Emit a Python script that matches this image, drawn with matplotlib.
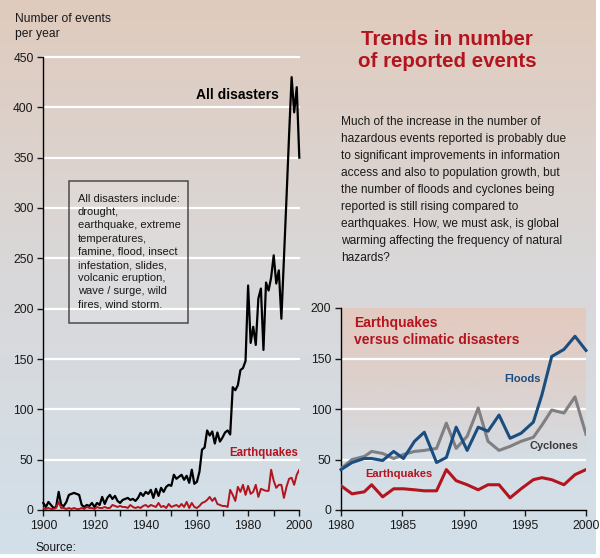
import matplotlib.pyplot as plt
import numpy as np
from matplotlib.colors import to_rgb
from matplotlib.patches import Rectangle

# --- data ---
years = np.arange(1900, 2001)

all_disasters = [
    7, 3, 8, 5, 2, 3, 18, 5, 4, 8,
    15, 16, 17, 16, 15, 5, 3, 5, 4, 7,
    3, 7, 5, 13, 6, 12, 15, 11, 14, 9,
    7, 10, 11, 12, 10, 11, 9, 12, 17, 14,
    18, 16, 20, 12, 21, 14, 22, 18, 23, 25,
    24, 35, 31, 33, 35, 30, 34, 27, 40, 26,
    28, 38, 60, 62, 79, 74, 78, 66, 77, 68,
    72, 77, 79, 75, 122, 119, 124, 139, 141, 148,
    223, 166, 182, 164, 210, 220, 159, 226, 218, 231,
    253, 225, 238, 190, 250, 310, 372, 430, 395, 420, 350,
]

earthquakes_all = [
    2, 1, 2, 1, 1, 2, 8, 2, 2, 1,
    2, 1, 2, 1, 1, 2, 1, 3, 2, 2,
    1, 3, 2, 2, 3, 2, 2, 5, 4, 3,
    4, 3, 3, 2, 5, 3, 2, 3, 2, 4,
    5, 3, 5, 4, 3, 7, 3, 4, 2, 6,
    3, 4, 5, 3, 6, 3, 8, 2, 7, 3,
    2, 4, 7, 8, 10, 13, 9, 12, 6, 5,
    4, 4, 3, 20, 15, 9, 23, 18, 25, 15,
    24, 16, 18, 25, 13, 21, 20, 19, 19, 40,
    29, 22, 25, 25, 12, 23, 31, 32, 25, 35, 40,
]

recent_x = [1980.0, 1980.9, 1981.9, 1982.5, 1983.4, 1984.3, 1985.1, 1986.0,
            1986.8, 1987.8, 1988.6, 1989.4, 1990.3, 1991.2, 1992.0, 1992.9,
            1993.8, 1994.7, 1995.7, 1996.4, 1997.2, 1998.2, 1999.1, 2000.0]
floods = [40, 47, 51, 51, 49, 58, 51, 68, 77, 47, 52, 82,
          59, 82, 78, 94, 71, 76, 87, 114, 152, 159, 172, 158]
cyclones = [41, 50, 53, 58, 56, 51, 55, 58, 59, 61, 86, 61,
            73, 101, 68, 59, 63, 68, 72, 84, 99, 96, 112, 75]
earthquakes_recent = [24, 16, 18, 25, 13, 21, 21, 20, 19, 19, 40, 29,
                      25, 20, 25, 25, 12, 21, 30, 32, 30, 25, 35, 40]

box_text = ("All disasters include:\ndrought,\nearthquake, extreme\n"
            "temperatures,\nfamine, flood, insect\ninfestation, slides,\n"
            "volcanic eruption,\nwave / surge, wild\nfires, wind storm.")
body_text = ("Much of the increase in the number of\n"
             "hazardous events reported is probably due\n"
             "to significant improvements in information\n"
             "access and also to population growth, but\n"
             "the number of floods and cyclones being\n"
             "reported is still rising compared to\n"
             "earthquakes. How, we must ask, is global\n"
             "warming affecting the frequency of natural\n"
             "hazards?")

RED = "#b3141d"
BLUE = "#1b4d7e"
GREY = "#808084"
INK = "#1a1a1a"

plt.rcParams["font.family"] = ["Liberation Sans", "DejaVu Sans"]

W, H = 600, 558


def fx(px):
    return px / W


def fy(py):
    return 1 - py / H


fig = plt.figure(figsize=(6, 5.58), dpi=100)
fig.patch.set_facecolor("white")

# --- background gradient (tan at top, pale blue at bottom) ---
bg = fig.add_axes([0, fy(554), 596 / W, 554 / H], zorder=-5)
stops = np.array([0.0, 0.5, 1.0])
cols = np.array([to_rgb("#e0cbbd"), to_rgb("#d9d8da"), to_rgb("#d2e0ea")])
t = np.linspace(0, 1, 256)
grad = np.stack([np.interp(t, stops, cols[:, k]) for k in range(3)], axis=1)
bg.imshow(grad[:, None, :], aspect="auto", extent=[0, 1, 0, 1])
bg.set_axis_off()


def style_axes(ax):
    ax.set_facecolor("none")
    for s in ("top", "right"):
        ax.spines[s].set_visible(False)
    for s in ("left", "bottom"):
        ax.spines[s].set_linewidth(1.0)
        ax.spines[s].set_color("black")
    ax.tick_params(length=4, width=1, direction="out", labelsize=8.7,
                   pad=3, colors=INK)


# --- left panel: all disasters since 1900 ---
ax1 = fig.add_axes([fx(43.3), fy(510), 256 / W, 453 / H])
style_axes(ax1)
ax1.set_xlim(1900, 2000)
ax1.set_ylim(0, 450)
ax1.set_yticks(range(0, 451, 50))
ax1.set_xticks(range(1900, 2001, 10))
ax1.set_xticklabels([str(y) if y % 20 == 0 else "" for y in range(1900, 2001, 10)])
for v in range(50, 451, 50):
    ax1.axhline(v, color="white", lw=1.6, zorder=0.5, clip_on=False)

ax1.plot(years, all_disasters, color="black", lw=1.6, zorder=3, clip_on=False)
ax1.plot(years, earthquakes_all, color=RED, lw=1.4, zorder=3)

ax1.text(1959.6, 412, "All disasters", fontsize=10, weight="bold",
         va="center", ha="left", color="black")
ax1.text(1972.5, 56.6, "Earthquakes", fontsize=8.3, weight="bold",
         va="center", ha="left", color=RED)

fig.text(fx(15), fy(13), "Number of events\nper year", fontsize=8.7,
         va="top", ha="left", color=INK, linespacing=1.35)

fig.patches.append(Rectangle((fx(69), fy(323)), 119 / W, 142 / H,
                             transform=fig.transFigure, facecolor=(1, 1, 1, 0.12),
                             edgecolor="#4a4a4a", lw=1.1, zorder=2))
fig.text(fx(78), fy(194), box_text, fontsize=8.0, va="top", ha="left",
         color=INK, linespacing=1.4)

fig.text(fx(35), fy(548), "Source:", fontsize=8.6, va="center", ha="left",
         color=INK)

# --- title and commentary ---
fig.text(fx(447), fy(30), "Trends in number\nof reported events",
         fontsize=14.8, weight="bold", color=RED, ha="center", va="top",
         linespacing=1.17)
fig.text(fx(341), fy(116), body_text, fontsize=8.6, va="top", ha="left",
         color=INK, linespacing=1.55)

# --- right panel: 1980-2000 ---
ax2 = fig.add_axes([fx(341), fy(510), 245 / W, 202 / H])
style_axes(ax2)
ax2.set_xlim(1980, 2000)
ax2.set_ylim(0, 200)
ax2.set_yticks(range(0, 201, 50))
ax2.set_xticks(range(1980, 2001, 5))

pink = np.zeros((200, 1, 4))
vals = np.linspace(200, 0, 200)
pink[:, 0, :3] = to_rgb("#e3cabf")
pink[:, 0, 3] = np.clip((vals - 55) / 145, 0, 1) ** 0.8
ax2.imshow(pink, aspect="auto", extent=[1980, 2000, 0, 200], zorder=0)
for v in (50, 100, 150):
    ax2.axhline(v, color="white", lw=1.6, zorder=0.5)

ax2.plot(recent_x, earthquakes_recent, color=RED, lw=2.2, zorder=3)
ax2.plot(recent_x, cyclones, color=GREY, lw=2.2, zorder=3)
ax2.plot(recent_x, floods, color=BLUE, lw=2.2, zorder=4, clip_on=False)

ax2.text(1981.1, 192, "Earthquakes\nversus climatic disasters", fontsize=10,
         weight="bold", color=RED, va="top", ha="left", linespacing=1.3)
ax2.text(1993.3, 129.7, "Floods", fontsize=8.0, weight="bold", color=BLUE,
         va="center", ha="left")
ax2.text(1995.35, 63, "Cyclones", fontsize=7.9, weight="bold", color="#3a3a3c",
         va="center", ha="left")
ax2.text(1982.0, 35.3, "Earthquakes", fontsize=8.0, weight="bold", color=RED,
         va="center", ha="left")

fig.savefig("out.png", dpi=100)
